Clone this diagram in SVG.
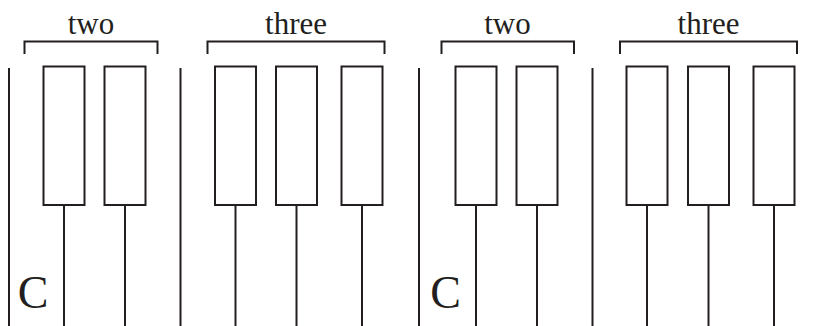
<svg xmlns="http://www.w3.org/2000/svg" width="822" height="326" viewBox="0 0 822 326">
<style>
.ln{stroke:#231f20;stroke-width:2;fill:none}
.key{stroke:#231f20;stroke-width:2;fill:#fff}
.lbl{font-family:"Liberation Serif","Times New Roman",serif;font-size:31px;fill:#231f20;text-anchor:middle}
.c{font-family:"Liberation Serif","Times New Roman",serif;font-size:46px;fill:#231f20;text-anchor:middle}
</style>
<rect width="822" height="326" fill="#fff"/>
<g id="connectors">
<line class="ln" x1="9" y1="68" x2="9" y2="326"/>
<line class="ln" x1="180.5" y1="68" x2="180.5" y2="326"/>
<line class="ln" x1="419" y1="68" x2="419" y2="326"/>
<line class="ln" x1="592.5" y1="68" x2="592.5" y2="326"/>
<line class="ln" x1="64" y1="205" x2="64" y2="326"/>
<line class="ln" x1="125" y1="205" x2="125" y2="326"/>
<line class="ln" x1="235.5" y1="205" x2="235.5" y2="326"/>
<line class="ln" x1="296.5" y1="205" x2="296.5" y2="326"/>
<line class="ln" x1="362" y1="205" x2="362" y2="326"/>
<line class="ln" x1="476" y1="205" x2="476" y2="326"/>
<line class="ln" x1="537" y1="205" x2="537" y2="326"/>
<line class="ln" x1="647" y1="205" x2="647" y2="326"/>
<line class="ln" x1="708.5" y1="205" x2="708.5" y2="326"/>
<line class="ln" x1="774" y1="205" x2="774" y2="326"/>
</g>
<g id="group-two-1">
<polyline class="ln" points="24.5,54 24.5,41.5 157.5,41.5 157.5,54"/>
<text class="lbl" x="91" y="33.5">two</text>
</g>
<g id="group-three-1">
<polyline class="ln" points="207.5,54 207.5,41.5 384.5,41.5 384.5,54"/>
<text class="lbl" x="296" y="33.5">three</text>
</g>
<g id="group-two-2">
<polyline class="ln" points="441.5,54 441.5,41.5 574,41.5 574,54"/>
<text class="lbl" x="507.5" y="33.5">two</text>
</g>
<g id="group-three-2">
<polyline class="ln" points="620,54 620,41.5 797,41.5 797,54"/>
<text class="lbl" x="708.5" y="33.5">three</text>
</g>
<g id="key1"><rect class="key" x="43.5" y="66.5" width="41" height="138.5"/></g>
<g id="key2"><rect class="key" x="104.5" y="66.5" width="41" height="138.5"/></g>
<g id="key3"><rect class="key" x="215" y="66.5" width="41" height="138.5"/></g>
<g id="key4"><rect class="key" x="276" y="66.5" width="41" height="138.5"/></g>
<g id="key5"><rect class="key" x="341.5" y="66.5" width="41" height="138.5"/></g>
<g id="key6"><rect class="key" x="455.5" y="66.5" width="41" height="138.5"/></g>
<g id="key7"><rect class="key" x="516.5" y="66.5" width="41" height="138.5"/></g>
<g id="key8"><rect class="key" x="626.5" y="66.5" width="41" height="138.5"/></g>
<g id="key9"><rect class="key" x="688" y="66.5" width="41" height="138.5"/></g>
<g id="key10"><rect class="key" x="753.5" y="66.5" width="41" height="138.5"/></g>
<g id="c1"><text class="c" x="33" y="308">C</text></g>
<g id="c2"><text class="c" x="445.5" y="308">C</text></g>
</svg>
